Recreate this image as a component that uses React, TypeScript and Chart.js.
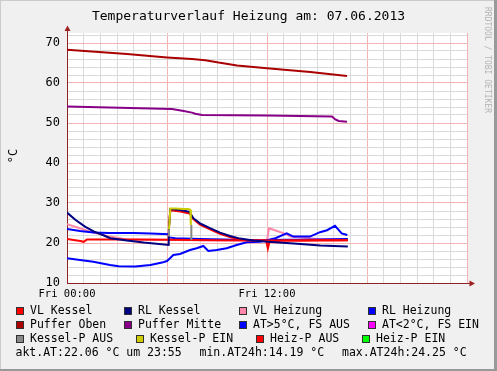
import React, { useEffect, useRef } from "react";
import { Chart, registerables } from "chart.js";

Chart.register(...registerables);

// ---------- data (time in hours since Fri 00:00, values in °C) ----------
const xTickLabels: Record<number, string> = { 0: "Fri 00:00", 12: "Fri 12:00" };
const yTicks = [10, 12, 14, 16, 18, 20, 22, 24, 26, 28, 30, 32, 34, 36, 38, 40, 42, 44, 46, 48, 50, 52, 54, 56, 58, 60, 62, 64, 66, 68, 70, 72];

const pufferObenT = [0, 3.6, 6, 7.5, 8.3, 9.1, 10.2, 12, 14.6, 16.8];
const pufferObenV = [68.3, 67.25, 66.4, 66.0, 65.7, 65.1, 64.4, 63.7, 62.75, 61.75];

const pufferMitteT = [0, 6.3, 7.0, 7.5, 7.7, 8.1, 12, 15.9, 16.1, 16.3, 16.8];
const pufferMitteV = [54.1, 53.5, 53.0, 52.6, 52.3, 52.0, 51.9, 51.6, 50.9, 50.5, 50.3];

const rlKesselT = [0, 0.5, 1.08, 1.6, 2, 2.6, 3.6, 4.6, 6.1, 6.12, 6.2, 6.8, 7.35, 7.58, 7.98, 8.58, 9.18, 9.78, 10.38, 11.18, 12.06, 13.6, 15.2, 16.85];
const rlKesselV = [27.6, 25.8, 24.1, 22.9, 22.25, 21.2, 20.6, 20.1, 19.5, 24, 28.5, 28.25, 27.8, 26.2, 24.9, 23.7, 22.6, 21.75, 21.1, 20.6, 20.3, 19.9, 19.4, 19.1];

const vlKesselT = [0, 0.5, 0.8, 1.0, 1.2, 2, 4, 6.1, 6.12, 6.2, 6.8, 7.35, 7.58, 7.98, 8.58, 9.18, 9.78, 10.38, 11, 11.95, 12.05, 12.15, 13, 14, 15, 16.85];
const vlKesselV = [21.0, 20.7, 20.5, 20.3, 20.9, 20.9, 20.9, 20.8, 24, 28.2, 27.9, 27.4, 26.0, 24.6, 23.4, 22.3, 21.5, 20.9, 20.7, 20.6, 18.6, 20.4, 20.6, 20.6, 20.7, 20.7];

const heizPAusT = [6.1, 9, 12, 14, 16.85];
const heizPAusV = [20.8, 20.7, 20.6, 20.6, 20.7];

const vlHeizungT = [0, 0.78, 1.58, 2.58, 3.58, 5, 8, 11, 12.0, 12.12, 13.1, 13.4, 14, 15, 16.85];
const vlHeizungV = [24.7, 23.7, 22.6, 21.6, 20.9, 20.8, 20.7, 20.6, 20.6, 23.7, 22.3, 21.6, 21.4, 21.0, 20.9];

const rlHeizungT = [0, 0.78, 1.58, 2.5, 4, 5, 6.1, 6.13, 6.5, 8, 10, 11, 12, 13, 14, 15, 16.85];
const rlHeizungV = [23.5, 23.0, 22.6, 22.5, 22.5, 22.4, 22.2, 21.4, 21.2, 21.0, 20.8, 20.7, 20.7, 20.8, 20.8, 20.9, 21.0];

const atT = [0, 0.78, 1.58, 2.58, 3.1, 4.1, 5, 5.7, 6.0, 6.18, 6.38, 6.78, 7.38, 7.78, 8.18, 8.48, 8.98, 9.58, 10.18, 10.78, 11.58, 12.06, 12.5, 13.18, 13.58, 14.0, 14.58, 15.18, 15.6, 16.08, 16.48, 16.82];
const atV = [16.2, 15.75, 15.3, 14.5, 14.2, 14.1, 14.5, 15.1, 15.5, 16.2, 17.0, 17.25, 18.25, 18.7, 19.25, 18.0, 18.25, 18.7, 19.5, 20.2, 20.3, 20.75, 21.2, 22.4, 21.6, 21.6, 21.6, 22.7, 23.2, 24.3, 22.4, 22.0];

const kesselPAusT = [6.12, 6.12, 6.8, 7.46, 7.46];
const kesselPAusV: (number | null)[] = [21.6, 23.4, null, 24.5, 20.7];

const kesselPEinT = [6.12, 6.2, 6.5, 7.0, 7.3, 7.4, 7.43];
const kesselPEinV = [23.4, 28.6, 28.6, 28.5, 28.5, 28.3, 24.5];

const legendRows = [
  [["VL Kessel", "#ff0000"], ["RL Kessel", "#000080"], ["VL Heizung", "#ff88aa"], ["RL Heizung", "#0000ff"]],
  [["Puffer Oben", "#aa0000"], ["Puffer Mitte", "#880088"], ["AT>5°C, FS AUS", "#0000ff"], ["AT<2°C, FS EIN", "#ff00ff"]],
  [["Kessel-P AUS", "#888888"], ["Kessel-P EIN", "#cccc00"], ["Heiz-P AUS", "#ff0000"], ["Heiz-P EIN", "#00ff00"]],
];
const summaryTexts = ["akt.AT:22.06 °C um 23:55", "min.AT24h:14.19 °C", "max.AT24h:24.25 °C"];

const TITLE = "Temperaturverlauf Heizung am: 07.06.2013";
const Y_LABEL = "°C";
const WATERMARK = "RRDTOOL / TOBI OETIKER";

// ---------- styling ----------
const FONT = '"DejaVu Sans Mono", "Liberation Mono", monospace';
const AXIS = "#8b2323";
const MAJOR = "#f3b3b3";
const MINOR = "#dadada";

const pts = (t: number[], v: (number | null)[]) => t.map((x, i) => ({ x, y: v[i] }));

const rrdPlugin = {
  id: "rrd",
  beforeDraw(chart: any) {
    const { ctx, chartArea: a, width, height } = chart;
    ctx.save();
    ctx.fillStyle = "#f0f0f0";
    ctx.fillRect(0, 0, width, height);
    ctx.fillStyle = "#ffffff";
    ctx.fillRect(a.left, a.top, a.right - a.left, a.bottom - a.top);
    ctx.restore();
  },
  afterDraw(chart: any) {
    const { ctx, chartArea: a, width, height } = chart;
    ctx.save();
    // axis extensions + arrows
    ctx.strokeStyle = AXIS;
    ctx.lineWidth = 1;
    ctx.beginPath();
    ctx.moveTo(a.left + 0.5, a.top);
    ctx.lineTo(a.left + 0.5, 29);
    ctx.moveTo(a.right, a.bottom + 0.5);
    ctx.lineTo(a.right + 3, a.bottom + 0.5);
    ctx.stroke();
    ctx.fillStyle = "#a02020";
    ctx.beginPath();
    ctx.moveTo(a.left + 0.5, 25.5);
    ctx.lineTo(a.left - 2.5, 31);
    ctx.lineTo(a.left + 3.5, 31);
    ctx.closePath();
    ctx.fill();
    ctx.beginPath();
    ctx.moveTo(a.right + 8, a.bottom + 0.5);
    ctx.lineTo(a.right + 2.5, a.bottom - 2.5);
    ctx.lineTo(a.right + 2.5, a.bottom + 3.5);
    ctx.closePath();
    ctx.fill();

    // title
    ctx.fillStyle = "#000";
    ctx.font = `13px ${FONT}`;
    ctx.textAlign = "center";
    ctx.textBaseline = "middle";
    ctx.fillText(TITLE, width / 2, 16.5);

    // y label
    ctx.save();
    ctx.translate(14, 156);
    ctx.rotate(-Math.PI / 2);
    ctx.font = `12px ${FONT}`;
    ctx.fillText(Y_LABEL, 0, 0);
    ctx.restore();

    // watermark
    ctx.save();
    ctx.translate(487, 7);
    ctx.rotate(Math.PI / 2);
    ctx.font = `8px ${FONT}`;
    ctx.fillStyle = "#b4b4b4";
    ctx.textAlign = "left";
    ctx.fillText(WATERMARK, 0, 0);
    ctx.restore();

    // legend
    const rowY = [311, 325, 339];
    const swX = [
      [16, 124.3, 239.3, 368.3],
      [16, 124.3, 239.3, 368.3],
      [16, 136.3, 256.3, 362.3],
    ];
    ctx.font = `11.5px ${FONT}`;
    ctx.textAlign = "left";
    ctx.textBaseline = "middle";
    legendRows.forEach((row, r) => {
      row.forEach(([label, color], c) => {
        const x = Math.round(swX[r][c]);
        const y = rowY[r] - 4;
        ctx.fillStyle = color;
        ctx.fillRect(x, y, 8, 8);
        ctx.strokeStyle = "#303030";
        ctx.lineWidth = 1;
        ctx.strokeRect(x + 0.5, y + 0.5, 7, 7);
        ctx.fillStyle = "#000";
        ctx.fillText(label, x + 14, rowY[r] + 0.5);
      });
    });
    const sx = [15.5, 199.5, 342];
    summaryTexts.forEach((t, i) => ctx.fillText(t, sx[i], 353.5));

    // frame
    ctx.fillStyle = "#cbcbcb";
    ctx.fillRect(0, 0, width, 1);
    ctx.fillRect(0, 0, 1, height);
    ctx.fillStyle = "#999999";
    ctx.fillRect(width - 3, 0, 3, height);
    ctx.fillRect(0, height - 2, width, 2);
    ctx.restore();
  },
};

export default function App() {
  const ref = useRef<HTMLCanvasElement | null>(null);
  useEffect(() => {
    document.body.style.margin = "0";
    const line = (label: string, t: number[], v: (number | null)[], color: string, order: number) => ({
      label,
      data: pts(t, v),
      borderColor: color,
      backgroundColor: color,
      borderWidth: 2,
      pointRadius: 0,
      tension: 0,
      spanGaps: false,
      order,
    });
    const chart = new Chart(ref.current as HTMLCanvasElement, {
      type: "line",
      data: {
        datasets: [
          line("Kessel-P EIN", kesselPEinT, kesselPEinV, "#cccc00", 0),
          line("Kessel-P AUS", kesselPAusT, kesselPAusV, "#888888", 1),
          line("RL Kessel", rlKesselT, rlKesselV, "#000080", 2),
          line("VL Kessel", vlKesselT, vlKesselV, "#ff0000", 3),
          line("Heiz-P AUS", heizPAusT, heizPAusV, "#ff0000", 4),
          line("AT>5°C, FS AUS", atT, atV, "#0000ff", 5),
          line("RL Heizung", rlHeizungT, rlHeizungV, "#0000ff", 6),
          line("VL Heizung", vlHeizungT, vlHeizungV, "#ff88aa", 7),
          line("Puffer Mitte", pufferMitteT, pufferMitteV, "#880088", 8),
          line("Puffer Oben", pufferObenT, pufferObenV, "#aa0000", 9),
        ] as any,
      },
      options: {
        responsive: false,
        animation: false,
        devicePixelRatio: 1,
        layout: { padding: { top: 33, right: 30, left: 0, bottom: 0 } },
        plugins: { legend: { display: false }, tooltip: { enabled: false }, title: { display: false } },
        scales: {
          x: {
            type: "linear",
            min: 0,
            max: 24,
            afterFit: (s: any) => {
              s.height = 88;
            },
            ticks: {
              stepSize: 1,
              autoSkip: false,
              maxRotation: 0,
              padding: 5,
              color: "#000",
              font: { family: FONT, size: 10.5 },
              callback: (v: any) => xTickLabels[v as number] ?? "",
            },
            grid: {
              drawTicks: false,
              color: (c: any) => (c.tick && c.tick.value % 6 === 0 ? MAJOR : MINOR),
            },
            border: { color: AXIS, width: 1 },
          },
          y: {
            type: "linear",
            min: 10,
            max: 72.5,
            afterFit: (s: any) => {
              s.width = 67;
            },
            afterBuildTicks: (s: any) => {
              s.ticks = yTicks.map((v) => ({ value: v }));
            },
            ticks: {
              autoSkip: false,
              padding: 7,
              color: "#000",
              font: { family: FONT, size: 12 },
              callback: (v: any) => ((v as number) % 10 === 0 ? String(v) : ""),
            },
            grid: {
              drawTicks: false,
              color: (c: any) => (c.tick && c.tick.value % 10 === 0 ? MAJOR : MINOR),
            },
            border: { color: AXIS, width: 1 },
          },
        },
      } as any,
      plugins: [rrdPlugin],
    });
    return () => chart.destroy();
  }, []);
  return (
    <div style={{ position: "absolute", left: 0, top: 0 }}>
      <canvas ref={ref} width={497} height={371} style={{ display: "block" }} />
    </div>
  );
}
